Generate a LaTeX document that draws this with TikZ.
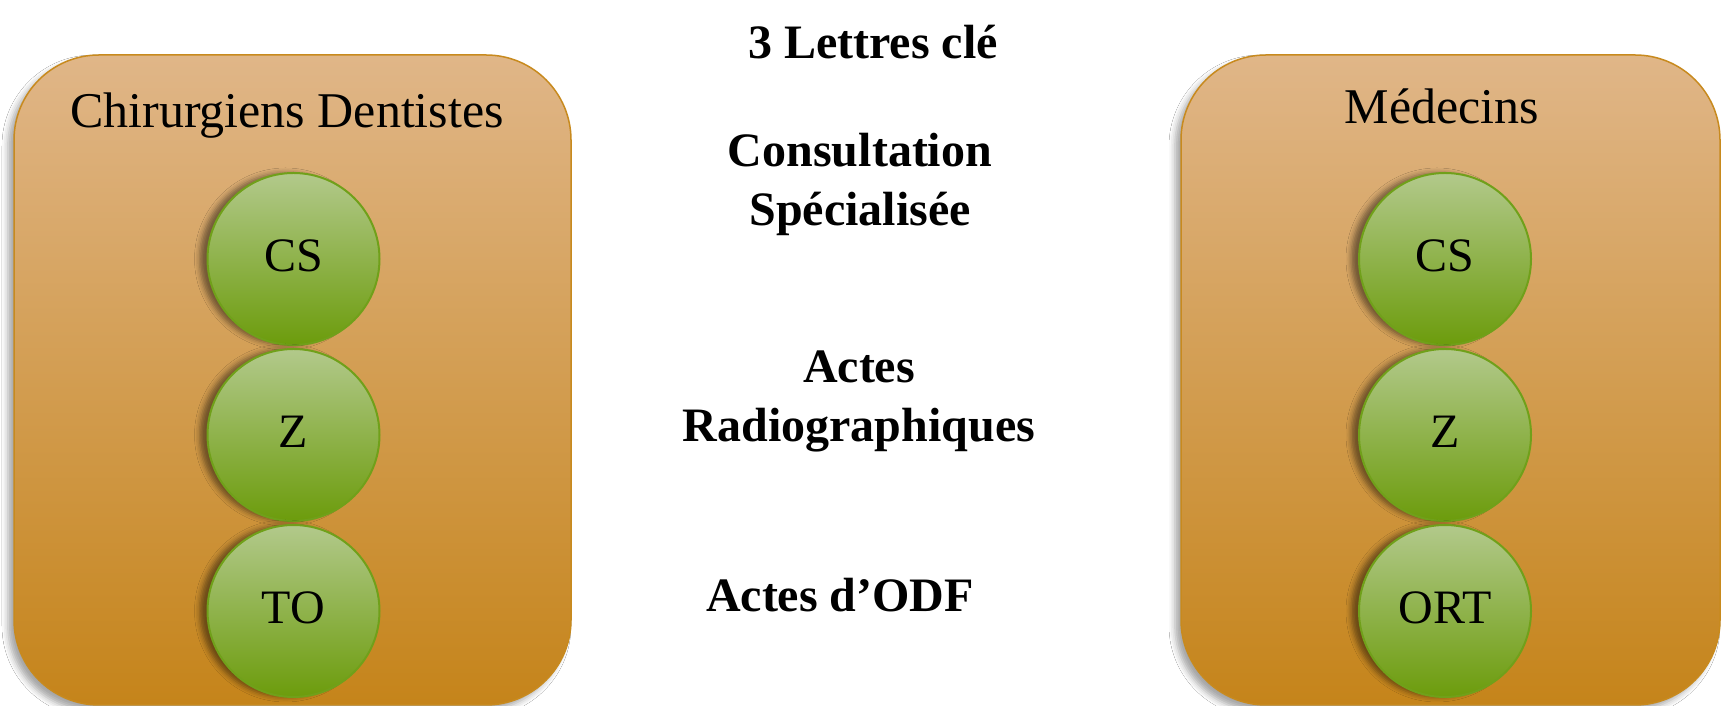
\documentclass[tikz,border=0pt]{standalone}
\usepackage{fontspec}
\setmainfont{Liberation Serif}
\usetikzlibrary{shadows.blur}
\definecolor{boxtop}{HTML}{E0B688}
\definecolor{boxmid}{HTML}{DDA262}
\definecolor{boxbot}{HTML}{C5841A}
\definecolor{boxline}{HTML}{C88A1E}
\definecolor{circtop}{HTML}{B2C98B}
\definecolor{circbot}{HTML}{6C9C0C}
\definecolor{circline}{HTML}{70A01A}
\tikzset{
  groupbox/.style={draw=boxline, line width=1.5pt, rounded corners=85pt,
    top color=boxtop, middle color=boxmid, bottom color=boxbot,
    inner sep=0pt, outer sep=0pt,
    blur shadow={shadow xshift=-6pt, shadow yshift=-6pt, shadow blur radius=6pt, shadow opacity=35}},
  bubble/.style={circle, draw=circline, line width=2pt, minimum size=172pt, inner sep=0pt,
    top color=circtop, bottom color=circbot,
    blur shadow={shadow xshift=-8pt, shadow yshift=0pt, shadow blur radius=5pt, shadow opacity=45},
    font=\fontsize{48}{56}\selectfont},
  grouptitle/.style={font=\fontsize{50}{60}\selectfont, inner sep=0pt},
  midtext/.style={font=\fontsize{48}{59}\selectfont\bfseries, align=center, inner sep=0pt}
}
\newcommand{\upl}[1]{\raisebox{7pt}{#1}}
\begin{document}
\begin{tikzpicture}[x=1pt,y=1pt]
\useasboundingbox (0,0) rectangle (1722,706);
\fill[white] (0,0) rectangle (1722,706);
% left group
\node[groupbox, minimum width=557pt, minimum height=650pt] (lbox) at (292.5,326) {};
\node[grouptitle] (ltitle) at (287,590) {Chirurgiens Dentistes};
\node[bubble] (lcs) at (293.5,447) {\upl{CS}};
\node[bubble] (lz) at (293.5,271) {\upl{Z}};
\node[bubble] (lto) at (293.5,95) {\upl{TO}};
% right group
\node[groupbox, minimum width=539pt, minimum height=650pt] (rbox) at (1450.5,326) {};
\node[grouptitle] (rtitle) at (1442,600) {Médecins};
\node[bubble] (rcs) at (1445,447) {\upl{CS}};
\node[bubble] (rz) at (1445,271) {\upl{Z}};
\node[bubble] (rort) at (1445,95) {\upl{ORT}};
% middle texts
\node[midtext] (head) at (873,664) {3 Lettres clé};
\node[midtext] (cons) at (860,522) {Consultation\\Spécialisée};
\node[midtext] (radio) at (859,305) {Actes\\Radiographiques};
\node[midtext] (odf) at (840,111) {Actes d’ODF};
\end{tikzpicture}
\end{document}
